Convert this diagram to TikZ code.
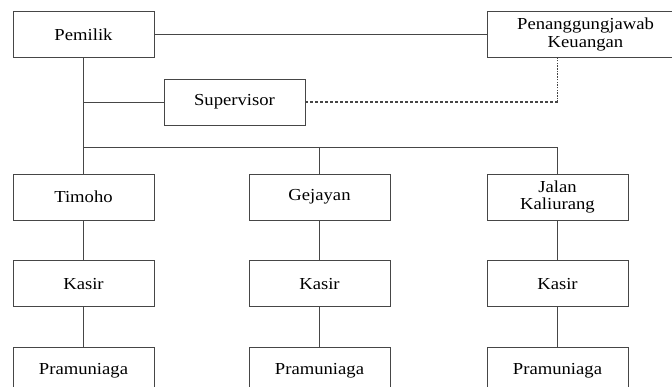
\documentclass[tikz,border=0pt]{standalone}
\usepackage{fontspec}
\setmainfont[FakeStretch=1.11]{Liberation Serif}
\usetikzlibrary{positioning}
\definecolor{linegray}{RGB}{70,70,70}

\begin{document}
\begin{tikzpicture}[x=1pt,y=-1pt,node distance=40pt,
    unit/.style={draw=linegray,line width=0.8pt,minimum width=141pt,minimum height=46pt,
      inner sep=0pt,align=center,font=\fontsize{16.8}{17.5}\selectfont},
    link/.style={draw=linegray,line width=0.8pt},
    liaison/.style={draw=linegray,line width=1.6pt,dash pattern=on 3pt off 2pt}]

  \useasboundingbox (0,0) rectangle (672,387);

  \node[unit] (pemilik) at (83.5,34.5) {Pemilik};
  \node[unit,minimum width=197pt] (keuangan) at (585.5,34.5) {Penanggungjawab\\Keuangan};
  \node[unit] (spv) at (234.5,102) {Supervisor};

  \node[unit] (timoho) at (83.5,197) {Timoho};
  \node[unit] (gejayan) at (319.5,197) {Gejayan};
  \node[unit] (kaliurang) at (557.5,197) {Jalan\\Kaliurang};

  \node[unit] (kasir1) [below=of timoho] {Kasir};
  \node[unit] (kasir2) [below=of gejayan] {Kasir};
  \node[unit] (kasir3) [below=of kaliurang] {Kasir};

  \node[unit] (pramu1) [below=of kasir1] {Pramuniaga};
  \node[unit] (pramu2) [below=of kasir2] {\raisebox{-3pt}{Pramuniaga}};
  \node[unit] (pramu3) [below=of kasir3] {Pramuniaga};

  \coordinate (fork) at (83.5,147);
  \coordinate (bend) at (kaliurang |- spv);

  \draw[link] (pemilik) -- (pemilik -| keuangan.west);
  \draw[link] (pemilik) -- (timoho);
  \draw[link] (pemilik |- spv) -- (spv);
  \draw[link] (fork) -| (kaliurang);
  \draw[link] (gejayan |- fork) -- (gejayan);

  \draw[link] (timoho) -- (kasir1) (kasir1) -- (pramu1);
  \draw[link] (gejayan) -- (kasir2) (kasir2) -- (pramu2);
  \draw[link] (kaliurang) -- (kasir3) (kasir3) -- (pramu3);

  \draw[liaison] (spv) -- (bend);
  \draw[liaison,dash pattern=on 1.5pt off 1.2pt] (bend) -- (bend |- keuangan.south);

\end{tikzpicture}
\end{document}
